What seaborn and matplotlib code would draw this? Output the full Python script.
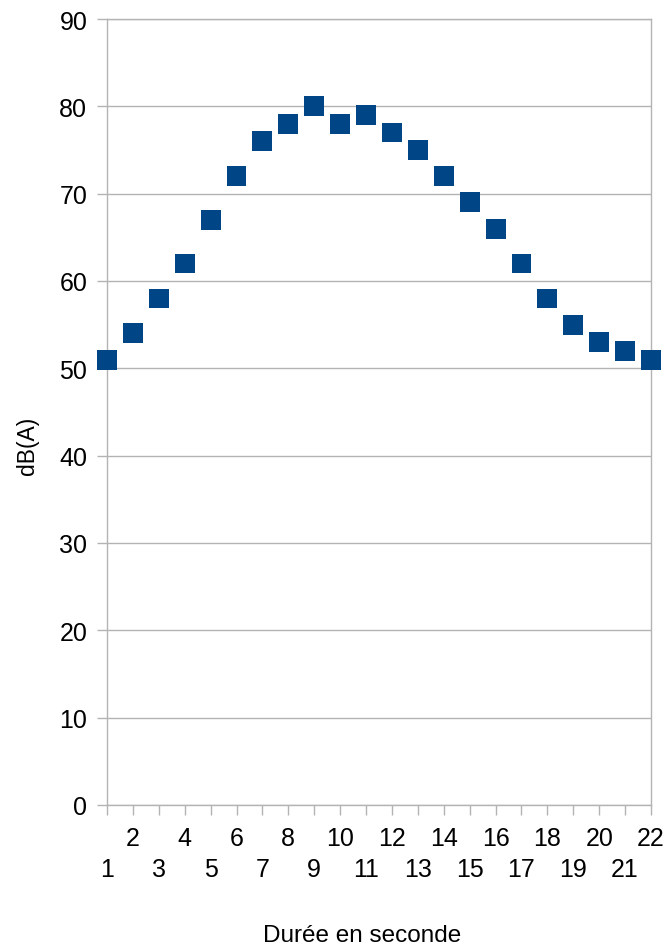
import numpy as np
import pandas as pd
import matplotlib.pyplot as plt
import seaborn as sns
from matplotlib.ticker import FixedLocator, FixedFormatter

# sound level measured each second
seconds = list(range(1, 23))
db_a = [51, 54, 58, 62, 67, 72, 76, 78, 80, 78, 79, 77, 75, 72, 69, 66, 62, 58, 55, 53, 52, 51]
y_ticks = [0, 10, 20, 30, 40, 50, 60, 70, 80, 90]
even_ticks = [s for s in seconds if s % 2 == 0]
odd_ticks = [s for s in seconds if s % 2 == 1]

df = pd.DataFrame({'Durée': seconds, 'dB': db_a})

sns.set_style("white")
plt.rcParams['font.family'] = ['Liberation Sans', 'DejaVu Sans']
plt.rcParams['text.color'] = 'black'
plt.rcParams['axes.labelcolor'] = 'black'
plt.rcParams['xtick.color'] = 'black'
plt.rcParams['ytick.color'] = 'black'

grey = '#b3b3b3'
fig = plt.figure(figsize=(6.7, 9.53), dpi=100)
ax = fig.add_axes([107/670, 147/953, 544/670, 786/953])

sns.scatterplot(data=df, x='Durée', y='dB', marker='s', s=205,
                color='#004586', edgecolor='none', linewidth=0, ax=ax,
                zorder=3, clip_on=False)

ax.set_xlim(1, 22)
ax.set_ylim(0, 90)
ax.set_yticks(y_ticks)
ax.yaxis.grid(True, color=grey, linewidth=1)
ax.xaxis.grid(False)
ax.set_axisbelow(True)

# staggered x labels: evens on top row, odds below
ax.xaxis.set_major_locator(FixedLocator(even_ticks))
ax.xaxis.set_major_formatter(FixedFormatter([str(s) for s in even_ticks]))
ax.xaxis.set_minor_locator(FixedLocator(odd_ticks))
ax.xaxis.set_minor_formatter(FixedFormatter([str(s) for s in odd_ticks]))
ax.tick_params(axis='x', which='major', length=7.2, width=1, color=grey,
               direction='out', pad=8, labelsize=18, labelcolor='black', bottom=True)
ax.tick_params(axis='x', which='minor', length=7.2, width=1, color=grey,
               direction='out', pad=30, labelsize=18, labelcolor='black', bottom=True)
ax.tick_params(axis='y', length=7.2, width=1, color=grey, direction='out',
               pad=7, labelsize=18, labelcolor='black', left=True)

for side in ['left', 'bottom', 'right', 'top']:
    ax.spines[side].set_color(grey)
    ax.spines[side].set_linewidth(1)

ax.set_xlabel('Durée en seconde', fontsize=17.5, color='black')
ax.set_ylabel('dB(A)', fontsize=16.5, color='black')
ax.xaxis.set_label_coords(0.469, -0.151)
ax.yaxis.set_label_coords(-0.147, 0.458)
ax.yaxis.label.set_va('center')

plt.savefig('out.png', dpi=100)
